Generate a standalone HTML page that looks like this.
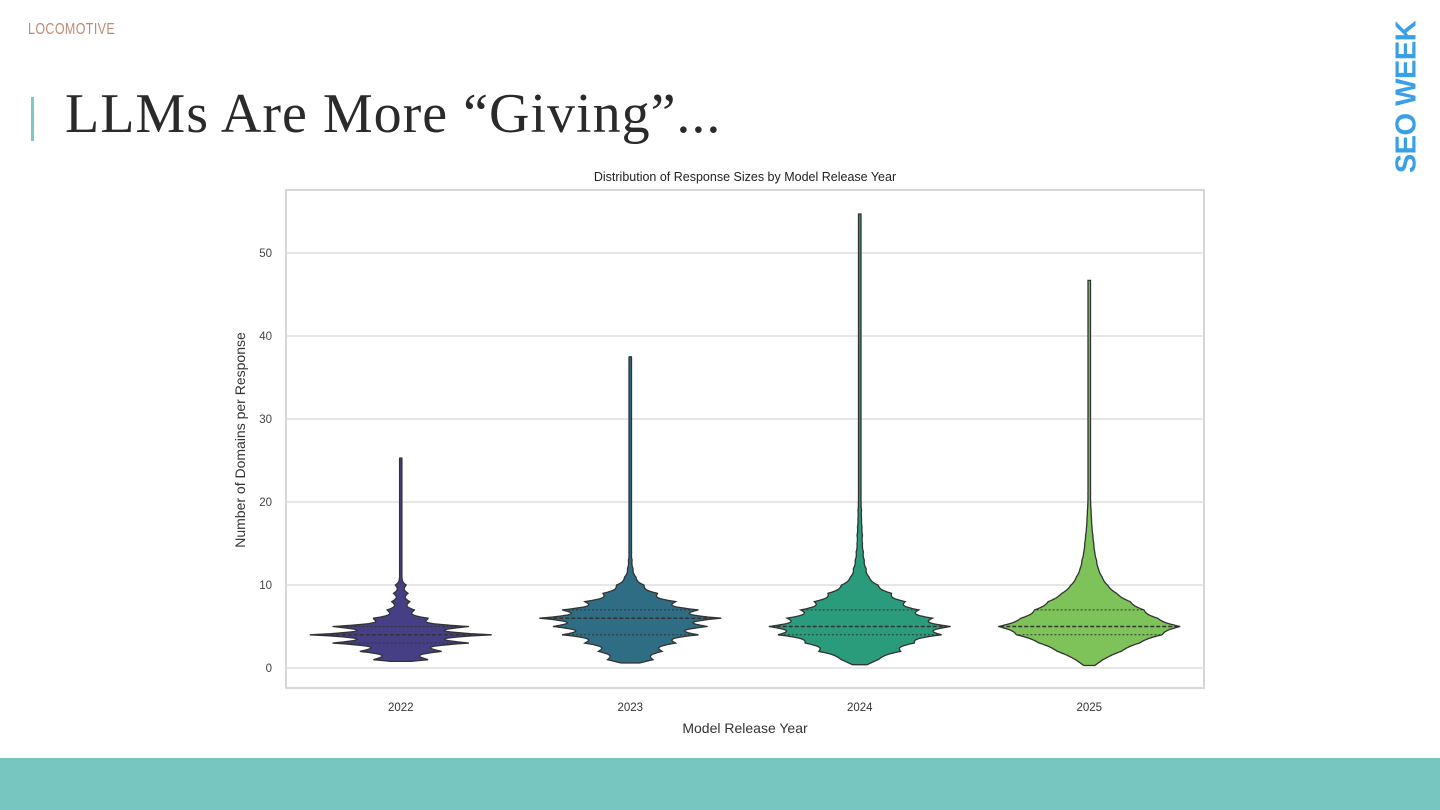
<!DOCTYPE html>
<html><head><meta charset="utf-8"><style>
body{margin:0;width:1440px;height:810px;background:#fff;position:relative;overflow:hidden;font-family:"Liberation Sans",sans-serif}
.logo{position:absolute;left:28px;top:21px;font-size:16px;letter-spacing:0.5px;color:#c08a70;font-family:"Liberation Sans Narrow","Liberation Sans",sans-serif;transform:scaleX(0.78);transform-origin:left}
.bar{position:absolute;left:31px;top:97px;width:3px;height:44px;background:#7cc8c2}
.title{position:absolute;left:65px;top:82px;font-family:"Liberation Serif",serif;font-size:56px;color:#2a2a2a;letter-spacing:1px}
.seo{position:absolute;left:1407px;top:97px;transform:translate(-50%,-50%) rotate(-90deg);font-weight:bold;font-size:29px;color:#3aa0e6;white-space:nowrap;letter-spacing:-0.5px}
.foot{position:absolute;left:0;top:758px;width:1440px;height:52px;background:#77c6c0}
</style></head><body>
<div class="logo">LOCOMOTIVE</div>
<div class="bar"></div>
<div class="title">LLMs Are More “Giving”...</div>
<div class="seo">SEO WEEK</div>
<div class="foot"></div>
<svg id="chart" width="1440" height="810" style="position:absolute;left:0;top:0"></svg>
<script>
const categories=["2022","2023","2024","2025"];
const colors=["#463f86","#2f6d85","#2a9b7b","#7dc35a"];
const yTicks=[0,10,20,30,40,50];
const mins=[0.8,0.6,0.4,0.3];
const maxs=[25.3,37.5,54.7,46.7];
// density (relative half-width) at integer values 1..20
const dens2022=[0.3,0.45,0.75,1.0,0.75,0.3,0.15,0.1,0.08,0.06,0.01,0.01,0.01,0.01,0.01,0.01,0.01,0.01,0.01,0.01];
const dens2023=[0.25,0.35,0.5,0.75,0.85,1.0,0.75,0.5,0.3,0.15,0.06,0.03,0.02,0.015,0.01,0.01,0.01,0.01,0.01,0.01];
const dens2024=[0.2,0.45,0.6,0.9,1.0,0.8,0.65,0.5,0.35,0.2,0.1,0.07,0.05,0.04,0.03,0.03,0.025,0.02,0.02,0.015];
const dens2025=[0.15,0.35,0.55,0.8,1.0,0.75,0.6,0.45,0.3,0.2,0.14,0.1,0.08,0.06,0.05,0.04,0.03,0.025,0.02,0.015];
const densities=[dens2022,dens2023,dens2024,dens2025];
const valleys=[0.55,0.75,0.85,0.95];
const quartiles=[[3,4,5],[4,6,7],[4,5,7],[4,5,7]];
const NS="http://www.w3.org/2000/svg";
const svg=document.getElementById('chart');
const L=286,R=1204,T=190,B=688;
const y=v=>668-v*8.3;
const x=i=>L+(R-L)*(i+0.5)/categories.length;
const maxW=91;
function mk(t,a,parent){const e=document.createElementNS(NS,t);for(const k in a)e.setAttribute(k,a[k]);(parent||svg).appendChild(e);return e;}
mk('rect',{x:L,y:T,width:R-L,height:B-T,fill:'#fff',stroke:'#d6d6d6','stroke-width':2});
yTicks.forEach(t=>{
 const g=mk('line',{x1:L,x2:R,y1:y(t),y2:y(t),stroke:'#dedede','stroke-width':1.5});
 
 const tx=mk('text',{x:L-14,y:y(t)+4,'text-anchor':'end','font-size':11.5,fill:'#444'});tx.textContent=t;
 
});
function width(i,v){
 const d=densities[i];
 if(v<1){return d[0]*maxW*Math.max(0,(v-mins[i])/(1-mins[i]))*0.6+d[0]*maxW*0.4;}
 const k=Math.floor(v),f=v-k;
 const a=k-1<d.length?d[k-1]:d[d.length-1]*Math.max(0.2,(maxs[i]-k)/(maxs[i]-20));
 const b=k<d.length?d[k]:d[d.length-1]*Math.max(0.2,(maxs[i]-k-1)/(maxs[i]-20));
 const lin=a+(b-a)*f;
 const vf=1-(1-valleys[i])*Math.sin(Math.PI*f);
 return Math.max(lin*vf*maxW,1.2);
}
categories.forEach((c,i)=>{
 const cx=x(i);
 const pts=[];const step=0.05;
 for(let v=mins[i];v<=maxs[i];v+=step)pts.push([v,width(i,v)]);
 pts.push([maxs[i],1]);
 let d='M'+cx+','+y(mins[i]);
 pts.forEach(p=>d+=' L'+(cx+p[1]).toFixed(1)+','+y(p[0]).toFixed(1));
 for(let j=pts.length-1;j>=0;j--)d+=' L'+(cx-pts[j][1]).toFixed(1)+','+y(pts[j][0]).toFixed(1);
 d+='Z';
 const p=mk('path',{d:d,fill:colors[i],stroke:'#333','stroke-width':1.3});
 
 quartiles[i].forEach((q,qi)=>{
  const w=width(i,q)-2;
  const l=mk('line',{x1:cx-w,x2:cx+w,y1:y(q),y2:y(q),stroke:'#333','stroke-width':qi==1?1.5:1,'stroke-dasharray':qi==1?'4,2':'2,2'});
  
 });
 const t=mk('text',{x:cx,y:B+23,'text-anchor':'middle','font-size':11.5,fill:'#333'});t.textContent=c;
 
});
const ct=mk('text',{x:(L+R)/2,y:181,'text-anchor':'middle','font-size':12.5,fill:'#222'});ct.textContent='Distribution of Response Sizes by Model Release Year';

const xt=mk('text',{x:(L+R)/2,y:733,'text-anchor':'middle','font-size':14,fill:'#333'});xt.textContent='Model Release Year';

const yt=mk('text',{x:0,y:0,'text-anchor':'middle','font-size':14,fill:'#333',transform:'translate(245,440) rotate(-90)'});yt.textContent='Number of Domains per Response';

</script>
</body></html>
